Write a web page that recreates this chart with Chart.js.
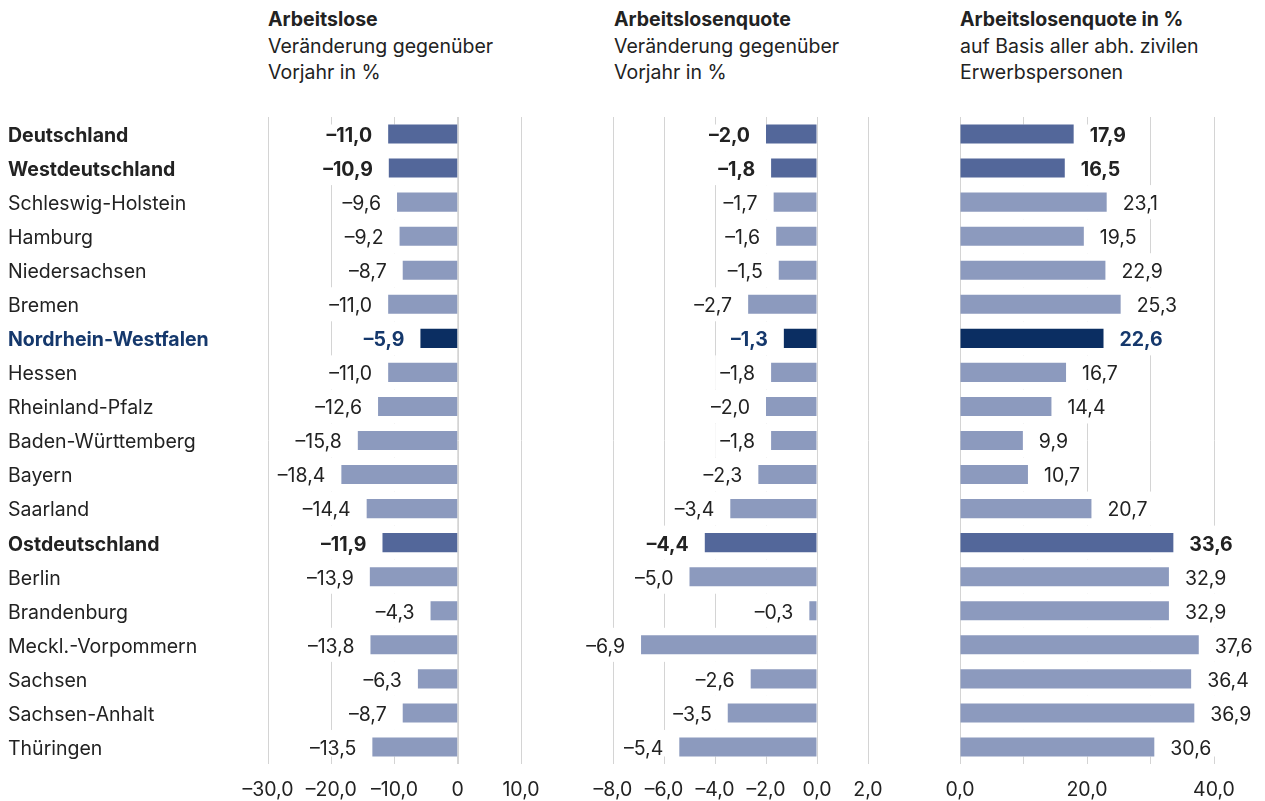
<!DOCTYPE html>
<html lang="de">
<head>
  <meta charset="UTF-8">
  <title>Arbeitslosigkeit nach Ländern</title>
  <script src="https://cdn.jsdelivr.net/npm/chart.js"></script>
  <style>
    body {
      margin: 0;
      background: #fff;
      font-family: Inter, sans-serif;
      color: #222;
    }

    .wrap {
      position: relative;
      width: 1265px;
      height: 801px;
      overflow: hidden;
    }

    .kopf {
      position: absolute;
      top: 6px;
      font-size: 19.5px;
      line-height: 26.5px;
      white-space: nowrap;
    }

    .kopf b {
      display: block;
    }

    canvas {
      position: absolute;
      top: 101px;
    }
  </style>
</head>
<body>
  <div class="wrap">
    <div class="kopf" style="left:268px"><b>Arbeitslose</b>Veränderung gegenüber<br>Vorjahr in %</div>
    <div class="kopf" style="left:614px"><b>Arbeitslosenquote</b>Veränderung gegenüber<br>Vorjahr in %</div>
    <div class="kopf" style="left:960px"><b>Arbeitslosenquote in %</b>auf Basis aller abh. zivilen<br>Erwerbspersonen</div>

    <canvas id="chartArbeitslose" width="558" height="700" style="left:0"></canvas>
    <canvas id="chartQuoteVeraenderung" width="340" height="700" style="left:560px"></canvas>
    <canvas id="chartQuote" width="365" height="700" style="left:900px"></canvas>
  </div>

  <script>
    // Daten
    const regionen = ['Deutschland', 'Westdeutschland', 'Schleswig-Holstein', 'Hamburg', 'Niedersachsen',
      'Bremen', 'Nordrhein-Westfalen', 'Hessen', 'Rheinland-Pfalz', 'Baden-Württemberg', 'Bayern',
      'Saarland', 'Ostdeutschland', 'Berlin', 'Brandenburg', 'Meckl.-Vorpommern', 'Sachsen',
      'Sachsen-Anhalt', 'Thüringen'];
    const arbeitslose = [-11.0, -10.9, -9.6, -9.2, -8.7, -11.0, -5.9, -11.0, -12.6, -15.8, -18.4,
      -14.4, -11.9, -13.9, -4.3, -13.8, -6.3, -8.7, -13.5];
    const quoteVeraenderung = [-2.0, -1.8, -1.7, -1.6, -1.5, -2.7, -1.3, -1.8, -2.0, -1.8, -2.3,
      -3.4, -4.4, -5.0, -0.3, -6.9, -2.6, -3.5, -5.4];
    const quote = [17.9, 16.5, 23.1, 19.5, 22.9, 25.3, 22.6, 16.7, 14.4, 9.9, 10.7,
      20.7, 33.6, 32.9, 32.9, 37.6, 36.4, 36.9, 30.6];
    const summen = ['Deutschland', 'Westdeutschland', 'Ostdeutschland'];
    const fokus = 'Nordrhein-Westfalen';

    const FARBE_SUMME = '#53679a';
    const FARBE_LAND = '#8c9abe';
    const FARBE_NRW = '#0b2e62';
    const TEXT = '#222222';
    const TEXT_NRW = '#15386c';
    const GITTER = '#d4d4d4';
    const SCHRIFT = 'Inter';
    const GROESSE = 19.5;
    const ABSTAND = 16;

    function istFett(i) {
      return summen.includes(regionen[i]) || regionen[i] === fokus;
    }

    function barFarbe(i) {
      if (regionen[i] === fokus) return FARBE_NRW;
      if (summen.includes(regionen[i])) return FARBE_SUMME;
      return FARBE_LAND;
    }

    function textFarbe(i) {
      return regionen[i] === fokus ? TEXT_NRW : TEXT;
    }

    function schrift(i) {
      return (istFett(i) ? 'bold ' : '') + GROESSE + 'px ' + SCHRIFT;
    }

    function zahl(v) {
      return (v < 0 ? '–' : '') + Math.abs(v).toFixed(1).replace('.', ',');
    }

    // Wertelabels mit weißem Hintergrund, damit die Gitterlinien dahinter verschwinden
    const wertLabels = {
      id: 'wertLabels',
      beforeDatasetsDraw(chart) {
        const ctx = chart.ctx;
        const area = chart.chartArea;
        const meta = chart.getDatasetMeta(0);
        const werte = chart.data.datasets[0].data;
        const band = meta.data.length > 1 ? Math.abs(meta.data[1].y - meta.data[0].y) : 34;
        ctx.save();
        ctx.fillStyle = '#fff';
        meta.data.forEach((bar, i) => {
          const v = werte[i];
          ctx.font = schrift(i);
          const w = ctx.measureText(zahl(v)).width;
          let a, b;
          if (v < 0) {
            a = bar.x - ABSTAND - w - 5;
            b = bar.base;
          } else {
            a = bar.base;
            b = bar.x + ABSTAND + w + 5;
          }
          let oben = bar.y - band / 2;
          let unten = bar.y + band / 2;
          if (i === 0) oben = bar.y - bar.height / 2;
          if (i === meta.data.length - 1) unten = bar.y + bar.height / 2;
          oben = Math.max(area.top, oben);
          ctx.fillRect(a, oben, b - a, unten - oben);
        });
        // Nulllinie
        const null0 = chart.scales.x.getPixelForValue(0);
        ctx.strokeStyle = GITTER;
        ctx.lineWidth = 1;
        ctx.beginPath();
        ctx.moveTo(Math.round(null0) + 0.5, area.top);
        ctx.lineTo(Math.round(null0) + 0.5, area.bottom);
        ctx.stroke();
        ctx.restore();
      },
      afterDatasetsDraw(chart) {
        const ctx = chart.ctx;
        const meta = chart.getDatasetMeta(0);
        const werte = chart.data.datasets[0].data;
        ctx.save();
        ctx.textBaseline = 'middle';
        meta.data.forEach((bar, i) => {
          const v = werte[i];
          ctx.font = schrift(i);
          ctx.fillStyle = textFarbe(i);
          if (v < 0) {
            ctx.textAlign = 'right';
            ctx.fillText(zahl(v), bar.x - ABSTAND, bar.y + 2);
          } else {
            ctx.textAlign = 'left';
            ctx.fillText(zahl(v), bar.x + ABSTAND, bar.y + 2);
          }
        });
        ctx.restore();
      }
    };

    function erstelleChart(canvasId, werte, xMin, xMax, schritt, tickText, padding, mitNamen) {
      const ctx = document.getElementById(canvasId).getContext('2d');
      const yAchse = {
        display: mitNamen,
        grid: { display: false },
        border: { display: false },
        ticks: {
          crossAlign: 'far',
          padding: 0,
          labelOffset: 2,
          color: (c) => textFarbe(c.index),
          font: (c) => ({ family: SCHRIFT, size: GROESSE, weight: istFett(c.index) ? 'bold' : 'normal' })
        }
      };
      if (mitNamen) {
        yAchse.afterFit = (s) => { s.width = 260; };
      }
      return new Chart(ctx, {
        type: 'bar',
        data: {
          labels: regionen,
          datasets: [{
            data: werte,
            backgroundColor: regionen.map((r, i) => barFarbe(i)),
            borderWidth: 0,
            categoryPercentage: 1,
            barPercentage: 0.56
          }]
        },
        options: {
          indexAxis: 'y',
          responsive: false,
          animation: false,
          layout: { padding: padding },
          plugins: {
            legend: { display: false },
            tooltip: { enabled: false }
          },
          scales: {
            x: {
              min: xMin,
              max: xMax,
              ticks: {
                stepSize: schritt,
                autoSkip: false,
                maxRotation: 0,
                padding: 14,
                color: TEXT,
                font: { family: SCHRIFT, size: GROESSE },
                callback: (v) => tickText(Math.round(v * 10) / 10)
              },
              grid: { color: GITTER, drawTicks: false, lineWidth: 1 },
              border: { display: false },
              afterFit: (s) => { s.height = 37; }
            },
            y: yAchse
          }
        },
        plugins: [wertLabels]
      });
    }

    erstelleChart('chartArbeitslose', arbeitslose, -30, 10, 10,
      (v) => v === 0 ? '0' : zahl(v),
      { left: 8, right: 37, top: 16, bottom: 0 }, true);

    erstelleChart('chartQuoteVeraenderung', quoteVeraenderung, -8, 2, 2,
      (v) => zahl(v),
      { left: 53, right: 32, top: 16, bottom: 0 }, false);

    erstelleChart('chartQuote', quote, 0, 40, 10,
      (v) => v % 20 === 0 ? zahl(v) : '',
      { left: 60, right: 51, top: 16, bottom: 0 }, false);
  </script>
</body>
</html>
